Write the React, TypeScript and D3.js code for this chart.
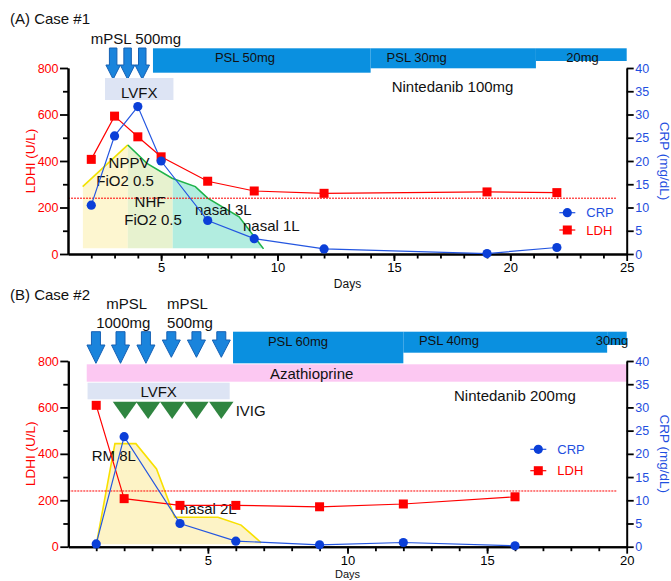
import React, { useEffect, useRef } from "react";
import * as d3 from "d3";

// ---------- Case #1 ----------
const daysA = [2, 3, 4, 5, 7, 9, 12, 19, 22];
const ldhA = [407, 593, 504, 418, 313, 271, 261, 267, 264];
const crpA = [10.5, 25.4, 31.7, 20, 7.2, 3.3, 1.1, 0.1, 1.4];
// oxygen support outline [day, value on LDH axis]
const respA = [[1.63, 290], [3.57, 469], [4.39, 390], [5.47, 326], [6.47, 290], [7.0, 240], [8.35, 160], [9.4, 22]];
const respStagesA = [1.63, 3.57, 5.5, 9.4]; // NPPV | NHF | nasal
const mpslA = [2.94, 3.56, 4.19];
const pslA = [
  { label: "PSL 50mg", start: 4.65, end: 14 },
  { label: "PSL 30mg", start: 14, end: 21.1 },
  { label: "20mg", start: 21.1, end: 25 },
];
const lvfxA = [2.59, 5.53];

// ---------- Case #2 ----------
const daysB = [1, 2, 4, 6, 9, 12, 16];
const ldhB = [609, 207, 178, 178, 172, 184, 215];
const crpB = [0.6, 23.7, 5.0, 1.2, 0.4, 0.9, 0.2];
const respB = [[1.0, 7], [1.67, 444], [2.42, 444], [3.16, 335], [3.81, 127], [5.36, 127], [6.19, 93], [6.91, 17]];
const respStagesB = [1.0, 6.91];
const mpslB = [0.99, 1.87, 2.78, 3.69, 4.59, 5.48];
const ivigB = [2.03, 2.86, 3.72, 4.59, 5.48];
const pslB = [
  { label: "PSL 60mg", start: 5.9, end: 12 },
  { label: "PSL 40mg", start: 12, end: 19.3 },
  { label: "30mg", start: 19.3, end: 20 },
];
const lvfxB = [0.69, 5.78];
const azaB = [0.66, 20];

const ldhUpper = 240;
const ldhTicks = [0, 200, 400, 600, 800];
const ldhMinor = [100, 300, 500, 700];
const crpTicks = [0, 5, 10, 15, 20, 25, 30, 35, 40];

const FONT = "'Liberation Sans', Arial, sans-serif";
const RED = "#ff0000";
const BLUE = "#1f4fe0";
const BAR = "#0a90e0";

function arrow(cx, top, headY, tip, sw, hw) {
  return `M${cx - sw / 2},${top}L${cx + sw / 2},${top}L${cx + sw / 2},${headY}L${cx + hw / 2},${headY}L${cx},${tip}L${cx - hw / 2},${headY}L${cx - sw / 2},${headY}Z`;
}

function text(g, str, x, y, size, opts: any = {}) {
  const t = g.append("text")
    .attr("x", x).attr("y", y)
    .attr("font-family", FONT)
    .attr("font-size", size)
    .attr("fill", opts.fill || "#111")
    .attr("text-anchor", opts.anchor || "start")
    .text(str);
  if (opts.transform) t.attr("transform", opts.transform);
  return t;
}

function drawPanel(svg, p) {
  const g = svg.append("g");
  const x = d3.scaleLinear().domain(p.domain).range([p.left, p.right]);
  const yL = d3.scaleLinear().domain([0, 800]).range([p.bottom, p.top]);
  const yR = d3.scaleLinear().domain([0, 40]).range([p.bottom, p.top]);

  text(g, p.title, 10, p.titleY, 15);

  // oxygen support area
  const area = d3.area().x(d => x(d[0])).y0(yL(p.respBase)).y1(d => yL(d[1]));
  g.append("clipPath").attr("id", "resp-" + p.id)
    .append("path").attr("d", area(p.resp));
  const bands = g.append("g").attr("clip-path", `url(#resp-${p.id})`);
  for (let i = 0; i < p.stages.length - 1; i++) {
    bands.append("rect")
      .attr("x", x(p.stages[i])).attr("width", x(p.stages[i + 1]) - x(p.stages[i]))
      .attr("y", p.top).attr("height", p.bottom - p.top)
      .attr("fill", p.stageFills[i]);
  }
  const line = d3.line().x(d => x(d[0])).y(d => yL(d[1]));
  g.append("path").attr("d", line(p.resp.slice(0, p.split + 1)))
    .attr("fill", "none").attr("stroke", p.outline[0]).attr("stroke-width", 1.6);
  if (p.split < p.resp.length - 1) {
    g.append("path").attr("d", line(p.resp.slice(p.split)))
      .attr("fill", "none").attr("stroke", p.outline[1]).attr("stroke-width", 1.6);
  }

  // upper normal LDH
  g.append("line")
    .attr("x1", p.left).attr("x2", 617)
    .attr("y1", yL(ldhUpper)).attr("y2", yL(ldhUpper))
    .attr("stroke", RED).attr("stroke-width", 1).attr("stroke-dasharray", "2,1");

  p.annotations.forEach(a => text(g, a.t, a.x, a.y, 15, { anchor: a.anchor || "middle" }));

  // treatments
  p.psl.forEach((s, i) => {
    g.append("rect")
      .attr("x", x(s.start)).attr("width", x(s.end) - x(s.start))
      .attr("y", p.pslTop).attr("height", p.pslH[i])
      .attr("fill", BAR);
  });
  p.psl.forEach((s, i) => text(g, s.label, p.pslLabelX[i], p.pslLabelY[i], 13, { anchor: "middle" }));

  p.mpsl.forEach((d, i) => {
    const a = p.arrowGeom(i);
    g.append("path")
      .attr("d", arrow(x(d), a.top, a.headY, a.tip, a.sw, a.hw))
      .attr("fill", "#1a84dc").attr("stroke", "#1560b4").attr("stroke-width", 1);
  });
  p.mpslLabels.forEach(l => text(g, l.t, l.x, l.y, 15, { anchor: "middle" }));

  if (p.aza) {
    g.append("rect").attr("x", x(p.aza[0])).attr("width", x(p.aza[1]) - x(p.aza[0]))
      .attr("y", p.azaY[0]).attr("height", p.azaY[1] - p.azaY[0]).attr("fill", "#fcc8f2");
    text(g, "Azathioprine", 311.7, p.azaY[1] - 2.5, 15, { anchor: "middle" });
  }
  g.append("rect").attr("x", x(p.lvfx[0])).attr("width", x(p.lvfx[1]) - x(p.lvfx[0]))
    .attr("y", p.lvfxY[0]).attr("height", p.lvfxY[1] - p.lvfxY[0]).attr("fill", "#dde4f4");
  text(g, "LVFX", (x(p.lvfx[0]) + x(p.lvfx[1])) / 2, p.lvfxY[1] - 2.5, 15, { anchor: "middle" });

  if (p.ivig) {
    const w = 24.4;
    p.ivig.forEach(d => {
      const cx = x(d);
      g.append("path")
        .attr("d", `M${cx - w / 2},${p.ivigY[0]}L${cx + w / 2},${p.ivigY[0]}L${cx},${p.ivigY[1]}Z`)
        .attr("fill", "#2f8540");
    });
    text(g, "IVIG", 235.7, p.ivigY[1] - 3, 15);
  }
  text(g, p.ninte, p.ninteX, p.ninteY, 15);

  // axes
  const styleAxis = (ax, color) => {
    ax.select(".domain").attr("stroke", "#000").attr("stroke-width", 2);
    ax.selectAll(".tick line").attr("stroke", "#000").attr("stroke-width", 1.8);
    ax.selectAll("text").attr("font-family", FONT).attr("fill", color);
  };
  const xMinor = g.append("g").attr("transform", `translate(0,${p.bottom})`)
    .call(d3.axisBottom(x).tickValues(p.minor).tickSize(4.5).tickSizeOuter(0).tickFormat(() => ""));
  styleAxis(xMinor, "#000");
  const xAx = g.append("g").attr("transform", `translate(0,${p.bottom})`)
    .call(d3.axisBottom(x).tickValues(p.major).tickSize(7).tickSizeOuter(0).tickPadding(2));
  xAx.attr("font-size", 13);
  styleAxis(xAx, "#000");

  const lMinor = g.append("g").attr("transform", `translate(${p.left},0)`)
    .call(d3.axisLeft(yL).tickValues(ldhMinor).tickSize(5).tickSizeOuter(0).tickFormat(() => ""));
  styleAxis(lMinor, RED);
  const lAx = g.append("g").attr("transform", `translate(${p.left},0)`)
    .call(d3.axisLeft(yL).tickValues(ldhTicks).tickSize(8).tickSizeOuter(0).tickPadding(1.5));
  lAx.attr("font-size", 12.5);
  styleAxis(lAx, RED);

  const rAx = g.append("g").attr("transform", `translate(${p.right},0)`)
    .call(d3.axisRight(yR).tickValues(crpTicks).tickSize(7).tickSizeOuter(0).tickPadding(1.5));
  rAx.attr("font-size", 12.5);
  styleAxis(rAx, BLUE);

  const midY = (p.top + p.bottom) / 2;
  text(g, "LDHI (U/L)", 0, 0, 13.5, { fill: RED, anchor: "middle", transform: `translate(35,${midY}) rotate(-90)` });
  text(g, "CRP (mg/dL)", 0, 0, 13.5, { fill: BLUE, anchor: "middle", transform: `translate(660,${midY}) rotate(90)` });
  text(g, "Days", 347.5, p.daysY, p.daysSize, { anchor: "middle" });

  // series
  const ldhPts = p.days.map((d, i) => [x(d), yL(p.ldh[i])]);
  const crpPts = p.days.map((d, i) => [x(d), yR(p.crp[i])]);
  g.append("path").attr("d", d3.line()(ldhPts)).attr("fill", "none").attr("stroke", RED).attr("stroke-width", 1.2);
  g.append("path").attr("d", d3.line()(crpPts)).attr("fill", "none").attr("stroke", "#2456e0").attr("stroke-width", 1.2);
  ldhPts.forEach(([cx, cy]) => g.append("rect").attr("x", cx - 4.5).attr("y", cy - 4.5).attr("width", 9).attr("height", 9).attr("fill", RED));
  crpPts.forEach(([cx, cy]) => g.append("circle").attr("cx", cx).attr("cy", cy).attr("r", 4.6).attr("fill", "#0b3fd8"));

  // legend
  const [lx, ly1, ly2] = p.legend;
  g.append("line").attr("x1", lx - 8).attr("x2", lx + 8).attr("y1", ly1).attr("y2", ly1).attr("stroke", "#2456e0").attr("stroke-width", 1.2);
  g.append("circle").attr("cx", lx).attr("cy", ly1).attr("r", 4.6).attr("fill", "#0b3fd8");
  text(g, "CRP", lx + 19, ly1 + 4.6, 13, { fill: BLUE });
  g.append("line").attr("x1", lx - 8).attr("x2", lx + 8).attr("y1", ly2).attr("y2", ly2).attr("stroke", RED).attr("stroke-width", 1.2);
  g.append("rect").attr("x", lx - 4.5).attr("y", ly2 - 4.5).attr("width", 9).attr("height", 9).attr("fill", RED);
  text(g, "LDH", lx + 19, ly2 + 4.6, 13, { fill: RED });
}

const panelA = {
  id: "a", title: "(A) Case #1", titleY: 24,
  domain: [1, 25], left: 68, right: 626.7, top: 68, bottom: 254, daysY: 288, daysSize: 12,
  major: [5, 10, 15, 20, 25], minor: d3.range(2, 25),
  days: daysA, ldh: ldhA, crp: crpA,
  resp: respA, respBase: 25, stages: respStagesA, stageFills: ["#fdf6d0", "#e7f2cf", "#b2ede0"],
  split: 1, outline: ["#f2e200", "#1fb34a"],
  annotations: [
    { t: "NPPV", x: 129, y: 168 }, { t: "FiO2 0.5", x: 125, y: 186 },
    { t: "NHF", x: 150, y: 207 }, { t: "FiO2 0.5", x: 153, y: 225 },
    { t: "nasal 3L", x: 195, y: 215, anchor: "start" }, { t: "nasal 1L", x: 243, y: 231, anchor: "start" },
  ],
  psl: pslA, pslTop: 48.3, pslH: [24.4, 20, 12.7], pslLabelX: [245, 416.7, 582.5], pslLabelY: [62, 62, 62],
  mpsl: mpslA, arrowGeom: () => ({ top: 48, headY: 65, tip: 79.3, sw: 7.5, hw: 14.5 }),
  mpslLabels: [{ t: "mPSL 500mg", x: 136, y: 44 }],
  lvfx: lvfxA, lvfxY: [78, 100],
  ninte: "Nintedanib 100mg", ninteX: 391.7, ninteY: 91.7,
  legend: [567.3, 212.7, 230],
};

const panelB = {
  id: "b", title: "(B) Case #2", titleY: 300,
  domain: [0, 20], left: 68.3, right: 626.7, top: 361, bottom: 546.7, daysY: 578.3, daysSize: 11,
  major: [5, 10, 15, 20], minor: d3.range(1, 20),
  days: daysB, ldh: ldhB, crp: crpB,
  resp: respB, respBase: 11, stages: respStagesB, stageFills: ["#fdf3c6"],
  split: respB.length - 1, outline: ["#f8e000", "#f8e000"],
  annotations: [
    { t: "RM 8L", x: 91.7, y: 461, anchor: "start" }, { t: "nasal 2L", x: 180, y: 514, anchor: "start" },
  ],
  psl: pslB, pslTop: 331.7, pslH: [31.6, 21, 13.3], pslLabelX: [298, 449, 612], pslLabelY: [346, 345, 345],
  mpsl: mpslB,
  arrowGeom: i => i < 3
    ? { top: 331.7, headY: 345, tip: 363.3, sw: 9, hw: 18 }
    : { top: 331.7, headY: 340, tip: 357.3, sw: 9, hw: 18 },
  mpslLabels: [
    { t: "mPSL", x: 126.7, y: 309 }, { t: "1000mg", x: 123.3, y: 328 },
    { t: "mPSL", x: 187.5, y: 309 }, { t: "500mg", x: 190, y: 328 },
  ],
  aza: azaB, azaY: [364.3, 381.7],
  lvfx: lvfxB, lvfxY: [382.7, 399.3],
  ivig: ivigB, ivigY: [401.7, 419],
  ninte: "Nintedanib 200mg", ninteX: 454, ninteY: 400.7,
  legend: [538.3, 449.3, 470.7],
};

export default function App() {
  const ref = useRef<SVGSVGElement>(null);
  useEffect(() => {
    const svg = d3.select(ref.current);
    svg.selectAll("*").remove();
    drawPanel(svg, panelA);
    drawPanel(svg, panelB);
  }, []);
  return (
    <svg ref={ref} width={671} height={581}
      style={{ position: "absolute", left: 0, top: 0, background: "#fff" }} />
  );
}
